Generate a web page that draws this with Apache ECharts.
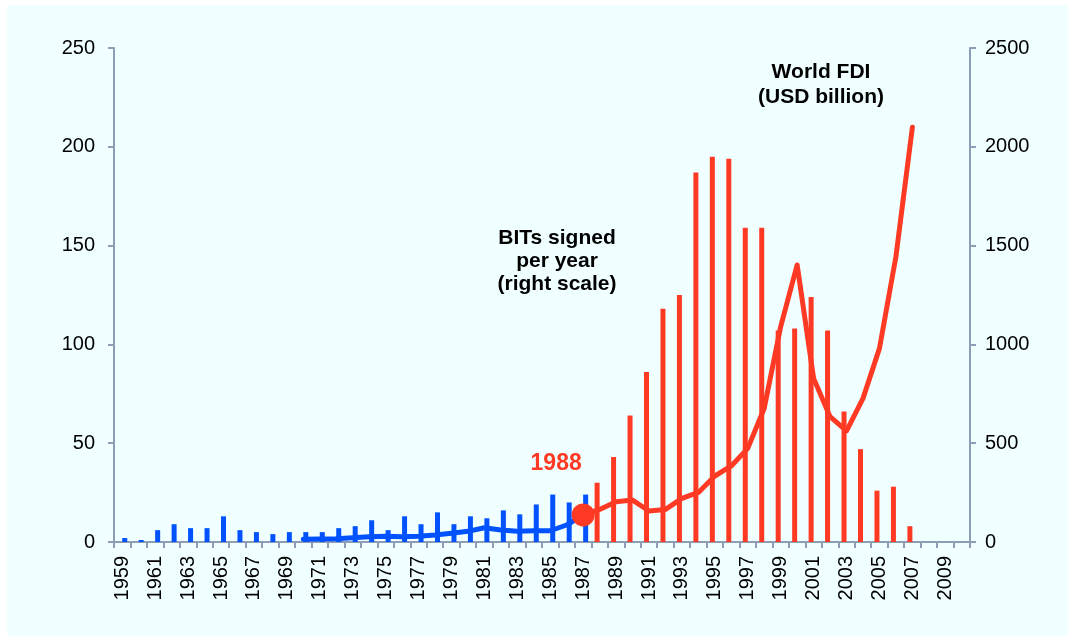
<!DOCTYPE html>
<html>
<head>
<meta charset="utf-8">
<script src="https://cdn.jsdelivr.net/npm/echarts@6/dist/echarts.min.js"></script>
<style>
  html, body { margin: 0; padding: 0; background: #ffffff; }
  #chart { width: 1075px; height: 641px; }
</style>
</head>
<body>
<div id="chart"></div>
<script>
// Years on the category axis
const years = ['1959','1960','1961','1962','1963','1964','1965','1966','1967','1968',
  '1969','1970','1971','1972','1973','1974','1975','1976','1977','1978',
  '1979','1980','1981','1982','1983','1984','1985','1986','1987','1988',
  '1989','1990','1991','1992','1993','1994','1995','1996','1997','1998',
  '1999','2000','2001','2002','2003','2004','2005','2006','2007','2008',
  '2009','2010'];

// BITs signed per year, 1959-1987 (blue) and 1988-2007 (red)
const bitsEarlyStart = '1959';
const bitsEarly = [2,1,6,9,7,7,13,6,5,4,5,5,5,7,8,11,6,13,9,15,9,13,12,16,14,19,24,20,24];
const bitsLateStart = '1988';
const bitsLate = [30,43,64,86,118,125,187,195,194,159,159,107,108,124,107,66,47,26,28,8];

// World FDI, USD billion: 1970-1987 (blue) and 1987-2007 (red)
const fdiEarlyStart = '1970';
const fdiEarly = [14,15,17,22,27,29,27,29,35,44,54,72,61,54,57,57,86,137];
const fdiLateStart = '1987';
const fdiLate = [137,165,204,212,157,165,221,251,334,385,474,677,1090,1402,828,634,562,727,980,1444,2099];

// Highlighted turning point
const markerYear = '1987';
const markerValue = 137;
const markerText = '1988';

// Axis tick values
const leftTicks = [0, 50, 100, 150, 200, 250];
const rightTicks = [0, 500, 1000, 1500, 2000, 2500];

const BLUE = '#0052ff';
const RED = '#ff3a24';
const AXIS = '#8e9cb6';
const FONT = '"Liberation Sans", Arial, sans-serif';

function placeOnYears(start, values) {
  const out = years.map(() => null);
  const i0 = years.indexOf(start);
  values.forEach((v, i) => { out[i0 + i] = v; });
  return out;
}

const chart = echarts.init(document.getElementById('chart'), null, { renderer: 'canvas' });

const labelFont = { fontFamily: FONT, color: '#000' };

chart.setOption({
  backgroundColor: '#ffffff',
  animation: false,
  graphic: [
    { type: 'rect', z: -10, shape: { x: 7, y: 5, width: 1061, height: 631 }, style: { fill: '#f0ffff' } },
    { type: 'text', x: 821, y: 60, z: 10,
      style: { text: 'World FDI\n(USD billion)', textAlign: 'center', textVerticalAlign: 'top',
        font: 'bold 21px ' + FONT, lineHeight: 25, fill: '#000' } },
    { type: 'text', x: 557, y: 227, z: 10,
      style: { text: 'BITs signed\nper year\n(right scale)', textAlign: 'center', textVerticalAlign: 'top',
        font: 'bold 21px ' + FONT, lineHeight: 23, fill: '#000' } }
  ],
  grid: { left: 114, right: 105, top: 48, bottom: 99, containLabel: false },
  xAxis: {
    type: 'category',
    data: years,
    boundaryGap: true,
    axisLine: { lineStyle: { color: AXIS, width: 2 } },
    axisTick: { show: true, interval: 0, length: 6, lineStyle: { color: AXIS, width: 2 } },
    axisLabel: Object.assign({ interval: 1, rotate: 90, fontSize: 20, margin: 14 }, labelFont)
  },
  yAxis: [
    {
      type: 'value', min: leftTicks[0], max: leftTicks[leftTicks.length - 1], interval: leftTicks[1] - leftTicks[0],
      position: 'left',
      axisLine: { show: true, lineStyle: { color: AXIS, width: 2 } },
      axisTick: { show: true, length: 6, lineStyle: { color: AXIS, width: 2 } },
      splitLine: { show: false },
      axisLabel: Object.assign({ fontSize: 20, margin: 19, formatter: v => String(v) }, labelFont)
    },
    {
      type: 'value', min: rightTicks[0], max: rightTicks[rightTicks.length - 1], interval: rightTicks[1] - rightTicks[0],
      position: 'right',
      axisLine: { show: true, lineStyle: { color: AXIS, width: 2 } },
      axisTick: { show: true, length: 6, lineStyle: { color: AXIS, width: 2 } },
      splitLine: { show: false },
      axisLabel: Object.assign({ fontSize: 20, margin: 15, formatter: v => String(v) }, labelFont)
    }
  ],
  series: [
    {
      name: 'BITs 1988-2007', type: 'bar', yAxisIndex: 0, barWidth: 5, barGap: '0%',
      data: placeOnYears(bitsLateStart, bitsLate),
      itemStyle: { color: RED }
    },
    {
      name: 'BITs 1959-1987', type: 'bar', yAxisIndex: 0, barWidth: 5, barGap: '0%',
      data: placeOnYears(bitsEarlyStart, bitsEarly),
      itemStyle: { color: BLUE }
    },
    {
      name: 'FDI 1970-1987', type: 'line', yAxisIndex: 1, symbol: 'none', connectNulls: false,
      data: placeOnYears(fdiEarlyStart, fdiEarly),
      lineStyle: { color: BLUE, width: 5, cap: 'round', join: 'round' }, z: 3
    },
    {
      name: 'FDI 1987-2007', type: 'line', yAxisIndex: 1, symbol: 'none', connectNulls: false,
      data: placeOnYears(fdiLateStart, fdiLate),
      lineStyle: { color: RED, width: 5, cap: 'round', join: 'round' }, z: 3
    },
    {
      name: 'Turning point', type: 'scatter', yAxisIndex: 1, symbol: 'circle', symbolSize: 23, z: 5,
      data: [[markerYear, markerValue]],
      itemStyle: { color: RED, opacity: 1 },
      label: {
        show: true, position: 'top', distance: 4, offset: [-27, -24],
        formatter: markerText, color: RED, fontSize: 23, fontWeight: 'bold', opacity: 1,
        fontFamily: FONT
      }
    }
  ]
});
</script>
</body>
</html>
